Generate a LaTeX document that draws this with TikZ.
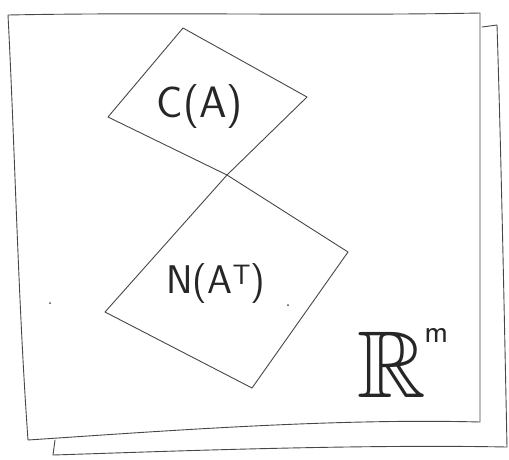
\documentclass[tikz,border=0pt]{standalone}
\usepackage{amssymb}
\begin{document}
\begin{tikzpicture}[x=1pt,y=-1pt,
  pencil/.style={draw=black!72,line width=0.9pt,line join=round,line cap=round},
  lbl/.style={text=black!85,inner sep=0pt,font=\sffamily}]
\useasboundingbox (0,0) rectangle (509,459);
% back sheet
\coordinate (b1) at (482,27);
\coordinate (b2) at (497,25);
\coordinate (b3) at (507,447);
\coordinate (b4) at (53,455);
\coordinate (b5) at (55,440);
\draw[pencil] (b1) -- (b2) .. controls (501,150) and (504,300) .. (b3)
  .. controls (350,444) and (150,452) .. (b4) -- (b5);
% front sheet
\coordinate (f1) at (8,15);
\coordinate (f2) at (480,13);
\coordinate (f3) at (480,422);
\coordinate (f4) at (28,440);
\draw[pencil,fill=white] (f1) .. controls (160,12) and (330,16) .. (f2) -- (f3)
  .. controls (330,418) and (150,432) .. (f4) .. controls (18,300) and (15,150) .. cycle;
% diamond C(A)
\coordinate (ct) at (183,28);
\coordinate (cr) at (307,97);
\coordinate (cb) at (227,175);
\coordinate (cl) at (108,117);
\draw[pencil] (ct) -- (cr) -- (cb) -- (cl) -- cycle;
% diamond N(A^T)
\coordinate (nr) at (348,252);
\coordinate (nb) at (252,388);
\coordinate (nl) at (105,312);
\draw[pencil] (cb) -- (nr) -- (nb) -- (nl) -- cycle;
% labels
\node[lbl,font=\sffamily\fontsize{44}{48}\selectfont] (ca) at (200,107) {C(A)};
\node[lbl,font=\sffamily\fontsize{40}{44}\selectfont] (nat) at (216,284) {N(A\textsuperscript{T})};
\node[lbl,font=\fontsize{95}{100}\selectfont] (rm) at (403,363)
  {$\mathbb{R}$\kern-2pt\raisebox{55pt}{\sffamily\fontsize{32}{34}\selectfont m}};
% stray pencil dots
\fill[black!72] (50,303) circle (1pt);
\fill[black!72] (288,305) circle (1pt);
\end{tikzpicture}
\end{document}
